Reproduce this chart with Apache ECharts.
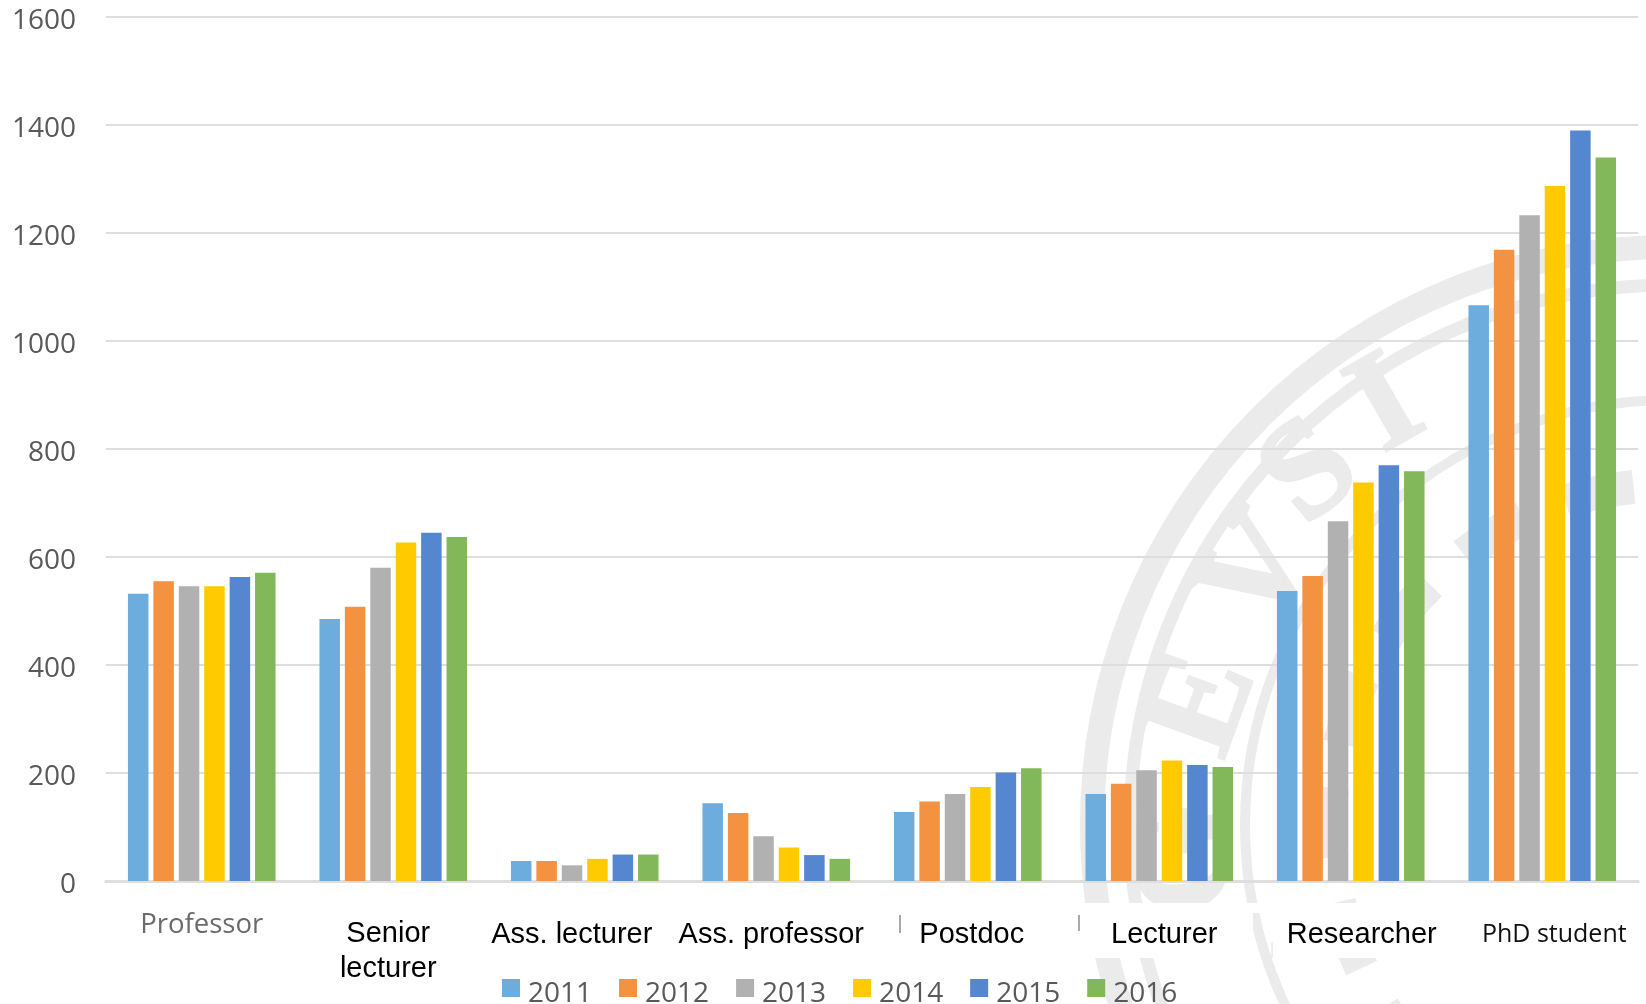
<!DOCTYPE html>
<html>
<head>
<meta charset="utf-8" />
<style>
  html, body { margin: 0; padding: 0; background: #fff; }
  #chart { width: 1646px; height: 1004px; }
</style>
<script src="https://cdn.jsdelivr.net/npm/echarts@6/dist/echarts.min.js"></script>
</head>
<body>
<div id="chart"></div>
<script>
const categories = ["Professor", "Senior\nlecturer", "Ass. lecturer", "Ass. professor", "Postdoc", "Lecturer", "Researcher", "PhD student"];
const years = ["2011", "2012", "2013", "2014", "2015", "2016"];
const yTicks = [0, 200, 400, 600, 800, 1000, 1200, 1400, 1600];

const v2011 = [532, 485, 37, 144, 128, 161, 537, 1066];
const v2012 = [555, 508, 37, 126, 147, 180, 565, 1169];
const v2013 = [546, 580, 29, 83, 161, 205, 666, 1233];
const v2014 = [546, 627, 41, 62, 174, 223, 738, 1287];
const v2015 = [563, 645, 49, 48, 201, 215, 770, 1390];
const v2016 = [571, 637, 49, 41, 209, 211, 759, 1340];
const seriesValues = [v2011, v2012, v2013, v2014, v2015, v2016];

const colors = ["#6DADDE", "#F39240", "#B1B1B1", "#FFCB00", "#5487CF", "#82B85A"];

// the labels in the picture sit off-centre, each one by hand
const labelShift = [0, -5, -13, -5, 4, 5, 11, 12];
const labelStyle = [
  { fontFamily: "Open Sans", fontSize: 27.5, color: "#6b6b6b", lineHeight: 19 },
  { fontFamily: "Liberation Sans", fontSize: 29, color: "#000", lineHeight: 35 },
  { fontFamily: "Liberation Sans", fontSize: 29, color: "#000", lineHeight: 37 },
  { fontFamily: "Liberation Sans", fontSize: 29, color: "#000", lineHeight: 37 },
  { fontFamily: "Liberation Sans", fontSize: 29, color: "#000", lineHeight: 37 },
  { fontFamily: "Liberation Sans", fontSize: 29, color: "#000", lineHeight: 37 },
  { fontFamily: "Liberation Sans", fontSize: 29, color: "#000", lineHeight: 37 },
  { fontFamily: "Open Sans", fontSize: 25, color: "#111", lineHeight: 37 },
];

const rich = {};
labelStyle.forEach((s, i) => {
  const d = labelShift[i];
  rich["c" + i] = { ...s, padding: [0, d < 0 ? -2 * d : 0, 0, d > 0 ? 2 * d : 0] };
});

// seal in the background, partly hidden behind the label strip
const sealColor = "#EBEBEB";
const sealX = 1670;
const sealY = 825;
const sealLetters = [
  { t: "E", x: 1205, y: 705, r: 70 },
  { t: "V", x: 1262, y: 575, r: 55 },
  { t: "S", x: 1312, y: 475, r: 40 },
  { t: "I", x: 1388, y: 408, r: 30 },
  { t: "G", x: 1190, y: 860, r: 95 },
];
const seal = [
  { type: "circle", z: -10, silent: true, shape: { cx: sealX, cy: sealY, r: 578 }, style: { fill: null, stroke: sealColor, lineWidth: 24 } },
  { type: "circle", z: -10, silent: true, shape: { cx: sealX, cy: sealY, r: 540 }, style: { fill: null, stroke: sealColor, lineWidth: 13 } },
  { type: "circle", z: -10, silent: true, shape: { cx: sealX, cy: sealY, r: 425 }, style: { fill: null, stroke: sealColor, lineWidth: 10 } },
  { type: "circle", z: -10, silent: true, shape: { cx: sealX, cy: sealY, r: 340 }, style: { fill: null, stroke: sealColor, lineWidth: 34, lineDash: [70, 45] } },
  ...sealLetters.map((l) => ({
    type: "text",
    z: -10,
    silent: true,
    x: l.x,
    y: l.y,
    rotation: (l.r * Math.PI) / 180,
    style: { text: l.t, fill: sealColor, stroke: sealColor, lineWidth: 3, font: "bold 140px 'Liberation Serif'", align: "center", verticalAlign: "middle" },
  })),
  { type: "rect", z: -9, silent: true, shape: { x: 1000, y: 903, width: 253, height: 55 }, style: { fill: "#fff" } },
  { type: "rect", z: -9, silent: true, shape: { x: 1275, y: 903, width: 371, height: 55 }, style: { fill: "#fff" } },
  { type: "rect", z: -9, silent: true, shape: { x: 1253, y: 903, width: 22, height: 10 }, style: { fill: "#fff" } },
];
const strayTicks = [
  { type: "line", silent: true, shape: { x1: 900, y1: 915, x2: 900, y2: 933 }, style: { stroke: "#555", lineWidth: 1 } },
  { type: "line", silent: true, shape: { x1: 1079, y1: 915, x2: 1079, y2: 931 }, style: { stroke: "#555", lineWidth: 1 } },
  { type: "line", silent: true, shape: { x1: 1272, y1: 942, x2: 1272, y2: 958 }, style: { stroke: "#ddd", lineWidth: 1 } },
];

const chart = echarts.init(document.getElementById("chart"));

const option = {
  animation: false,
  backgroundColor: "#fff",
  graphic: { elements: [...seal, ...strayTicks] },
  grid: { left: 106, right: 8, top: 17, bottom: 123 },
  legend: {
    data: years,
    left: 497,
    top: 974,
    icon: "rect",
    itemWidth: 18,
    itemHeight: 18,
    itemGap: 27,
    formatter: (name) => `{y|${name}}`,
    textStyle: {
      rich: {
        y: { fontFamily: "Open Sans", fontSize: 28, color: "#595959", padding: [13, 0, 0, 3] },
      },
    },
  },
  xAxis: {
    type: "category",
    data: categories,
    axisTick: { show: false },
    axisLine: { lineStyle: { color: "#DEDEDE", width: 3 } },
    axisLabel: {
      interval: 0,
      margin: 35,
      hideOverlap: false,
      rich: rich,
      formatter: (value, index) =>
        value.split("\n").map((line) => `{c${index}|${line}}`).join("\n"),
    },
  },
  yAxis: {
    type: "value",
    min: yTicks[0],
    max: yTicks[yTicks.length - 1],
    interval: 200,
    axisLine: { show: false },
    axisTick: { show: false },
    splitLine: { lineStyle: { color: "#DEDEDE", width: 2 } },
    axisLabel: {
      margin: 30,
      rich: {
        t: { fontFamily: "Open Sans", fontSize: 28, color: "#595959", padding: [8, 0, 0, 0] },
      },
      formatter: (value) => `{t|${value}}`,
    },
  },
  series: years.map((year, i) => ({
    name: year,
    type: "bar",
    data: seriesValues[i],
    barWidth: 20.5,
    barGap: "24%",
    itemStyle: { color: colors[i] },
  })),
};
chart.setOption(option);
</script>
</body>
</html>
